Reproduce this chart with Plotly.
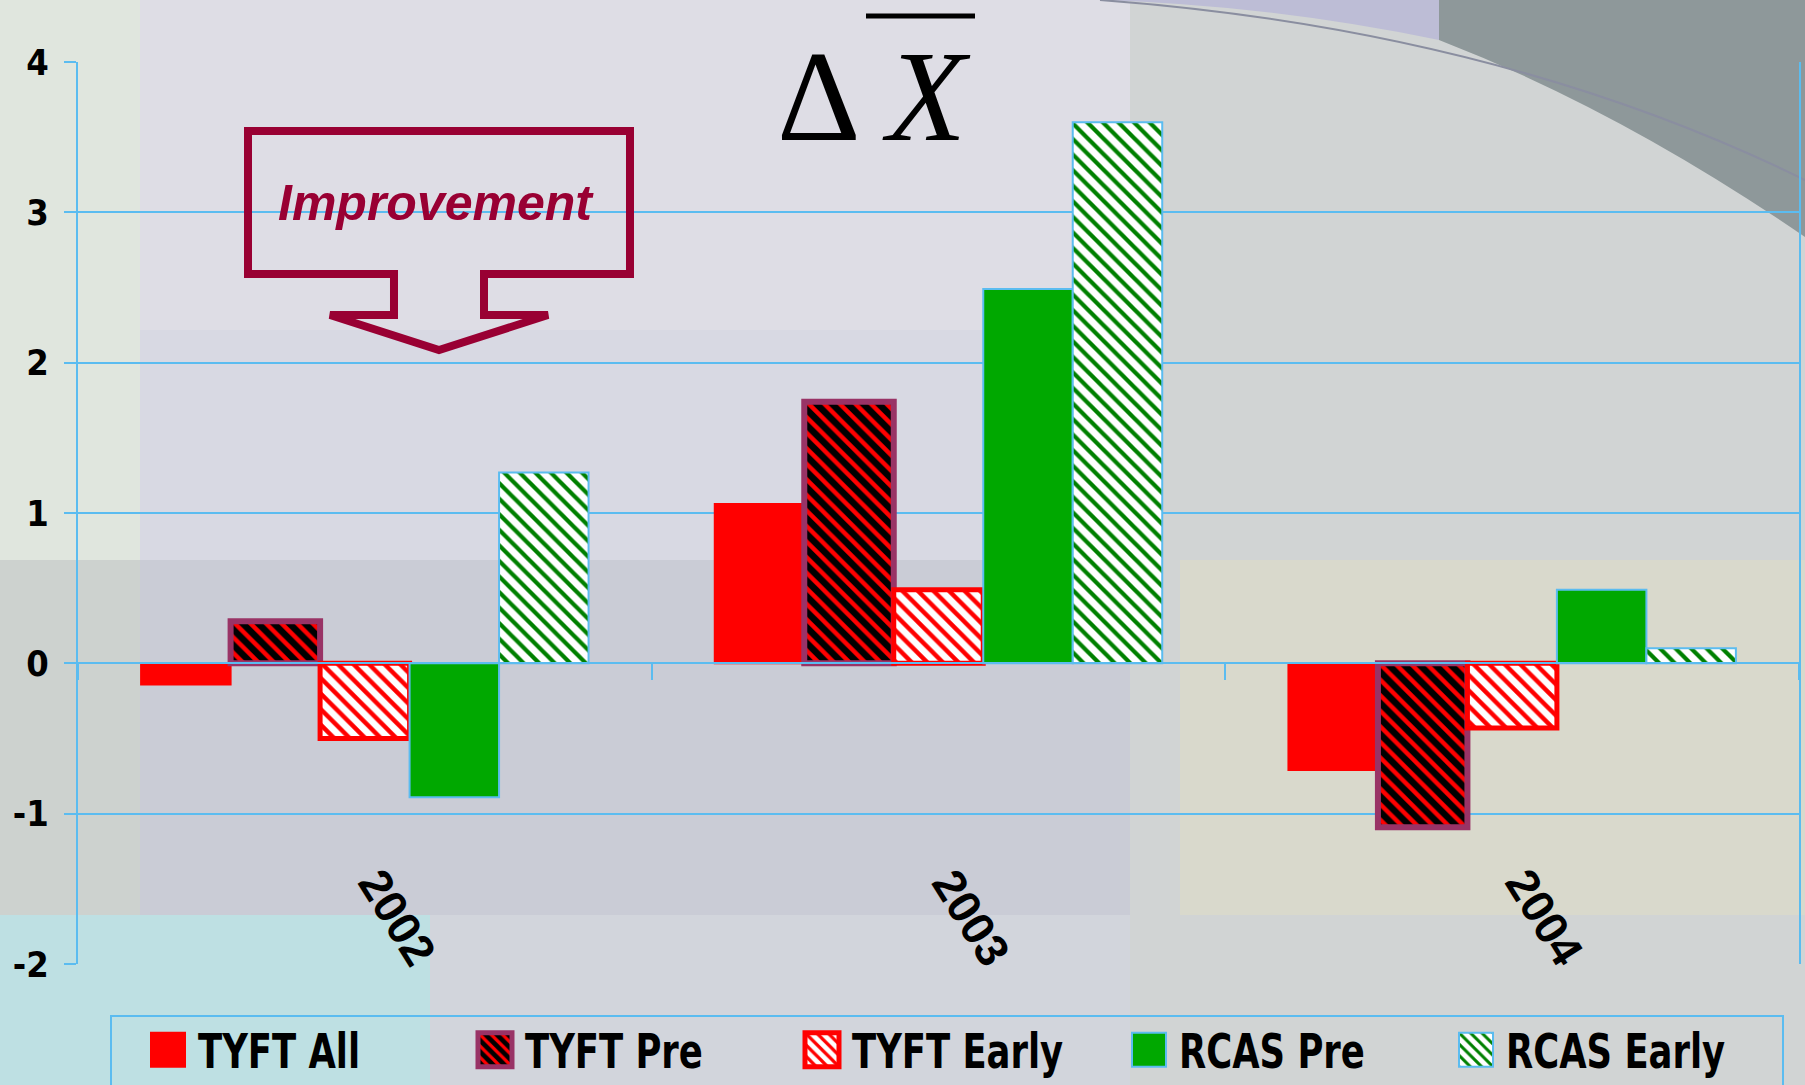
import plotly.graph_objects as go

# ---------------- data ----------------
categories = ["2002", "2003", "2004"]
series_names = ["TYFT All", "TYFT Pre", "TYFT Early", "RCAS Pre", "RCAS Early"]
tyft_all = [-0.14, 1.06, -0.71]
tyft_pre = [0.28, 1.74, -1.09]
tyft_early = [-0.50, 0.49, -0.43]
rcas_pre = [-0.89, 2.49, 0.49]
rcas_early = [1.27, 3.60, 0.10]
y_tick_vals = [-2, -1, 0, 1, 2, 3, 4]
y_tick_text = ["-2", "-1", "0", "1", "2", "3", "4"]

# ---------------- geometry helpers ----------------
W, H = 1805, 1085
ML, MR, MT, MB = 78, 6, 62, 121
PW, PH = W - ML - MR, H - MT - MB


def px(x):
    return (x - ML) / PW


def py(y):
    return (H - MB - y) / PH


BLUE = "#5BBCF0"
MAROON = "#990033"
NARROW = "DejaVu Sans Condensed"

fig = go.Figure()

styles = [
    dict(color="#FF0000", line=dict(color="#FF0000", width=2)),
    dict(color="#000000", line=dict(color="#993366", width=6),
         pattern=dict(shape="\\", fgcolor="#FF0000", bgcolor="#000000", fgopacity=1,
                      size=11, solidity=0.4, fillmode="overlay")),
    dict(color="#FFFFFF", line=dict(color="#FF0000", width=5),
         pattern=dict(shape="\\", fgcolor="#FF0000", bgcolor="#FFFFFF", fgopacity=1,
                      size=11, solidity=0.4, fillmode="overlay")),
    dict(color="#00A800", line=dict(color=BLUE, width=2)),
    dict(color="#FFFFFF", line=dict(color=BLUE, width=2),
         pattern=dict(shape="\\", fgcolor="#008000", bgcolor="#FFFFFF", fgopacity=1,
                      size=11, solidity=0.38, fillmode="overlay")),
]
values = [tyft_all, tyft_pre, tyft_early, rcas_pre, rcas_early]

for name, vals, st in zip(series_names, values, styles):
    fig.add_trace(go.Bar(x=categories, y=vals, name=name, marker=st))

# ---------------- background decoration ----------------
def rect(x0, y0, x1, y1, color, opacity=1.0, layer="below", line=None):
    return dict(type="rect", xref="paper", yref="paper", layer=layer,
                x0=px(x0), x1=px(x1), y0=py(y0), y1=py(y1),
                fillcolor=color, opacity=opacity, line=line if line else dict(width=0))


def path(points_cmd, color, layer="below", line=None, fill=True):
    d = dict(type="path", xref="paper", yref="paper", layer=layer, path=points_cmd,
             line=line if line else dict(width=0))
    if fill:
        d["fillcolor"] = color
    return d


def P(x, y):
    return f"{px(x):.5f},{py(y):.5f}"


shapes = [
    rect(0, 0, 140, 560, "#E0E6DE"),
    rect(140, 0, 1130, 560, "#D8D9E3"),
    rect(140, 0, 1130, 330, "#DEDDE5"),
    rect(0, 560, 140, 915, "#CDD2CF"),
    rect(140, 560, 1130, 915, "#CACCD6"),
    rect(1130, 0, W, 1085, "#D1D4D4"),
    rect(1180, 560, W, 915, "#D9D9CC"),
    rect(0, 915, 1130, 1085, "#D2D5DC"),
    rect(0, 915, 430, 1085, "#BEE0E3"),
    path(f"M{P(1100,0)} L{P(1439,0)} L{P(1439,40)} Q{P(1270,5)} {P(1100,0)} Z", "#BDBDD6"),
    path(f"M{P(1439,0)} L{P(W,0)} L{P(W,237)} Q{P(1620,110)} {P(1439,40)} Z", "#8E989A"),
    path(f"M{P(1100,0)} Q{P(1500,30)} {P(W,180)}", None,
         line=dict(color="#8A8EA0", width=2), fill=False),
    # legend frame
    rect(111, 1016, 1783, 1100, "rgba(0,0,0,0)", layer="above",
         line=dict(color=BLUE, width=2)),
]

# improvement arrow (outline)
arrow = (f"M{P(248,131)} L{P(630,131)} L{P(630,274)} L{P(484,274)} L{P(484,315)} "
         f"L{P(548,315)} L{P(439,350)} L{P(330,315)} L{P(394,315)} L{P(394,274)} "
         f"L{P(248,274)} Z")
shapes.append(dict(type="path", xref="paper", yref="paper", layer="above", path=arrow,
                   line=dict(color=MAROON, width=8)))
# title overline
shapes.append(dict(type="line", xref="paper", yref="paper", layer="above",
                   x0=px(866), x1=px(975), y0=py(16), y1=py(16),
                   line=dict(color="#000000", width=5)))

annotations = [
    dict(text="Δ\u2009<i>X</i>", xref="paper", yref="paper", x=px(874), y=py(96),
         xanchor="center", yanchor="middle", showarrow=False,
         font=dict(family="Liberation Serif", size=130, color="#000000")),
    dict(text="Improvement", xref="paper", yref="paper", x=px(436), y=py(203),
         xanchor="center", yanchor="middle", showarrow=False,
         font=dict(family="Liberation Sans", size=50, color=MAROON, weight="bold", style="italic")),
]
for i, c in enumerate(categories):
    annotations.append(dict(text=c, xref="x", yref="y", x=i, y=-1.69, xshift=32,
                            xanchor="center", yanchor="middle",
                            showarrow=False, textangle=58,
                            font=dict(family="Liberation Sans", size=46, color="#000000", weight="bold")))

fig.update_layout(
    width=W, height=H, autosize=False,
    margin=dict(l=ML, r=MR, t=MT, b=MB, pad=0, autoexpand=False),
    paper_bgcolor="#D5D7E0", plot_bgcolor="rgba(0,0,0,0)",
    barmode="group", bargap=0.22, bargroupgap=0,
    shapes=shapes, annotations=annotations,
    showlegend=True,
    legend=dict(orientation="h", x=px(138), y=py(1050), xanchor="left", yanchor="middle",
                bgcolor="rgba(0,0,0,0)", borderwidth=0,
                font=dict(family=NARROW, size=48, color="#000000", weight="bold"),
                itemwidth=50, entrywidth=262, entrywidthmode="pixels",
                traceorder="normal"),
    xaxis=dict(type="category", range=[-0.5, 2.5], autorange=False,
               anchor="free", position=1/3, showline=True, linecolor=BLUE,
               linewidth=2, ticks="outside", ticklen=16, tickwidth=2, tickcolor=BLUE,
               tickson="boundaries", showticklabels=False, showgrid=False, zeroline=False),
    yaxis=dict(range=[-2, 4], autorange=False, tickmode="array", tickvals=y_tick_vals, ticktext=y_tick_text,
               showgrid=True, gridcolor=BLUE, gridwidth=2,
               zeroline=True, zerolinecolor=BLUE, zerolinewidth=2,
               showline=True, linecolor=BLUE, linewidth=2, mirror=True,
               ticks="outside", ticklen=12, tickwidth=2, tickcolor=BLUE, ticklabelstandoff=8,
               tickfont=dict(family=NARROW, size=36, color="#000000", weight="bold")),
)

post = """
document.body.style.margin = '0';
document.body.style.overflow = 'hidden';
var gd = document.getElementById('{plot_id}');
function tweakLegend(){
  gd.querySelectorAll('.legend .legendpoints path').forEach(function(p){
    p.setAttribute('d','M17,17H-17V-17H17Z');
  });
  gd.querySelectorAll('.legend .legendtext').forEach(function(t){
    var x = parseFloat(t.getAttribute('x')) || 0;
    t.setAttribute('transform', 'translate(' + x + ',0) scale(0.82,1) translate(' + (-x) + ',0)');
  });
}
tweakLegend();
if (gd.on) { gd.on('plotly_afterplot', tweakLegend); }
"""
fig.write_html("out.html", post_script=post, config={"displayModeBar": False})
